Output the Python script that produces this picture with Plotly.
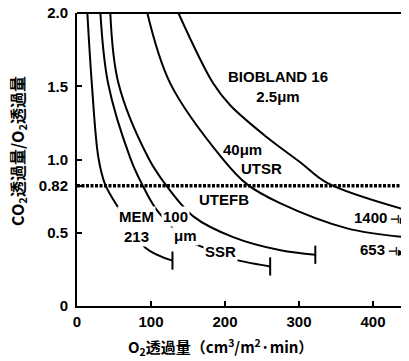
import plotly.graph_objects as go

# ---- data ----
mem213_x = [14, 20, 29, 38, 56, 92, 129]
mem213_y = [2.0, 1.52, 1.01, 0.83, 0.67, 0.40, 0.31]

ssr100_x = [31.6, 42, 72, 88, 110, 153, 171, 203, 261]
ssr100_y = [2.0, 1.52, 1.01, 0.83, 0.64, 0.44, 0.40, 0.33, 0.27]

c3_x = [45, 56, 96.5, 119.5, 157.6, 211, 275, 322]
c3_y = [2.0, 1.52, 1.01, 0.83, 0.61, 0.47, 0.38, 0.35]

c4_x = [95, 126, 196, 230, 275, 365, 452]
c4_y = [2.0, 1.52, 1.01, 0.83, 0.70, 0.53, 0.465]

c5_x = [137, 184, 207, 257, 302, 338, 452]
c5_y = [2.0, 1.52, 1.37, 1.15, 0.98, 0.84, 0.645]

ref_ratio = 0.82

x_ticks = [0, 100, 200, 300, 400]
y_ticks = [0, 0.5, 0.82, 1.0, 1.5, 2.0]
y_ticktext = ["0", "0.5", "0.82", "1.0", "1.5", "2.0"]

ended_curves = [(mem213_x, mem213_y), (ssr100_x, ssr100_y), (c3_x, c3_y)]

fig = go.Figure()
for xs, ys in [(mem213_x, mem213_y), (ssr100_x, ssr100_y), (c3_x, c3_y), (c4_x, c4_y), (c5_x, c5_y)]:
    fig.add_trace(go.Scatter(x=xs, y=ys, mode="lines",
                             line=dict(color="black", width=2, shape="spline", smoothing=1.0),
                             showlegend=False, hoverinfo="skip"))
# end bars of the finite curves
fig.add_trace(go.Scatter(x=[c[0][-1] for c in ended_curves], y=[c[1][-1] for c in ended_curves],
                         mode="markers",
                         marker=dict(symbol="line-ns", size=13, line=dict(color="black", width=2)),
                         showlegend=False, hoverinfo="skip"))

# dotted 0.82 reference line
fig.add_shape(type="line", xref="paper", x0=0, x1=1, yref="y", y0=ref_ratio, y1=ref_ratio,
              line=dict(color="black", width=3.5, dash="3px,1.5px"))
# top frame line
fig.add_shape(type="line", xref="paper", x0=0, x1=1, yref="paper", y0=1, y1=1,
              line=dict(color="black", width=2))

FONT = "Liberation Sans, Arial, sans-serif"
CJK = "Noto Sans CJK JP"

def lab(text, x, y, bg=False, **kw):
    d = dict(text=text, x=x, y=y, xref="x", yref="y", showarrow=False,
             font=dict(family=FONT, size=15, color="black", weight="bold"))
    if bg:
        d.update(bgcolor="white", borderpad=1)
    d.update(kw)
    fig.add_annotation(**d)

lab("BIOBLAND 16<br>2.5μm", 271, 1.50)
lab("40μm", 223.5, 1.065)
lab("UTSR", 249, 0.942)
lab("UTEFB", 198, 0.73)
lab("MEM<br>213", 80, 0.545, bg=True)
lab("100", 133, 0.614, bg=True)
lab("μm", 146.5, 0.478, bg=True)
lab("SSR", 194, 0.375, bg=True)
lab("1400<span style='font-size:11px'> ⊣</span><span style='font-size:8px'>▶</span>",
    372, 0.607, xanchor="left")
lab("653<span style='font-size:11px'> ⊣</span><span style='font-size:8px'>▶</span>",
    380, 0.389, xanchor="left")

# axis titles
fig.add_annotation(text="<b>CO<sub>2</sub>透過量/O<sub>2</sub>透過量</b>", xref="paper", yref="paper",
                   x=-0.181, y=0.529, textangle=-90, showarrow=False,
                   xanchor="center", yanchor="middle",
                   font=dict(family=CJK, size=16, color="black"))
fig.add_annotation(text="<b>O<sub>2</sub>透過量（cm<sup>3</sup>/m<sup>2</sup>·min）</b>", xref="paper", yref="paper",
                   x=0.431, y=-0.14, showarrow=False,
                   xanchor="center", yanchor="middle",
                   font=dict(family=CJK, size=15, color="black"))

# page body has an 8px default margin; sizes/margins compensate for it
fig.update_layout(
    width=401, height=353,
    margin=dict(l=69, r=0, t=5, b=55, autoexpand=False),
    plot_bgcolor="white", paper_bgcolor="white",
    font=dict(family=FONT, size=15, color="black", weight="bold"),
    xaxis=dict(range=[0, 448.6], tickvals=x_ticks, ticks="inside", ticklen=5, tickwidth=1.5,
               tickcolor="black", showline=True, linecolor="black", linewidth=2,
               showgrid=False, zeroline=False, ticklabelstandoff=1, automargin=False),
    yaxis=dict(range=[0, 2.0], tickvals=y_ticks, ticktext=y_ticktext, ticks="inside", ticklen=5,
               tickwidth=1.5, tickcolor="black", showline=True, linecolor="black", linewidth=2,
               showgrid=False, zeroline=False, ticklabelstandoff=4, ticklabeloverflow="allow",
               automargin=False),
)

fig.write_html("out.html")
